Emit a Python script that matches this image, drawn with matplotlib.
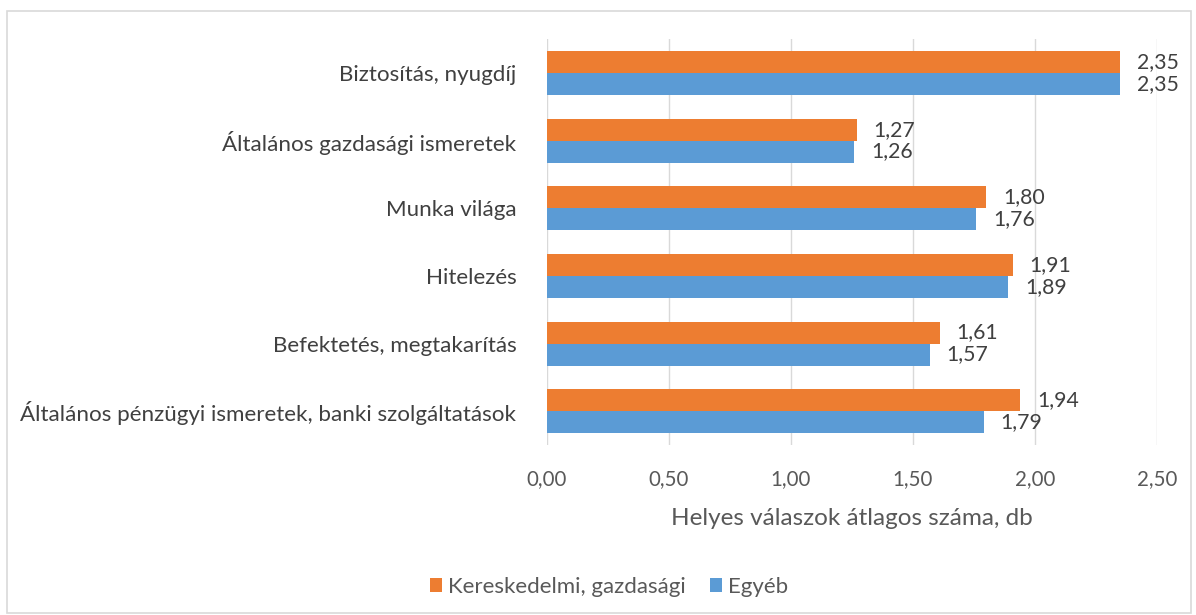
import matplotlib
matplotlib.use("Agg")
import matplotlib.pyplot as plt
import numpy as np
from matplotlib.patches import Rectangle

categories = [
    "Biztosítás, nyugdíj",
    "Általános gazdasági ismeretek",
    "Munka világa",
    "Hitelezés",
    "Befektetés, megtakarítás",
    "Általános pénzügyi ismeretek, banki szolgáltatások",
]
kereskedelmi = [2.35, 1.27, 1.80, 1.91, 1.61, 1.94]
egyeb = [2.35, 1.26, 1.76, 1.89, 1.57, 1.79]
series_names = ["Kereskedelmi, gazdasági", "Egyéb"]
xticks = [0.0, 0.5, 1.0, 1.5, 2.0, 2.5]

plt.rcParams['font.family'] = ['Lato', 'DejaVu Sans']

ORANGE = "#ED7D31"
BLUE = "#5B9BD5"
GRID = "#D9D9D9"
TXT = "#595959"
LBL = "#404040"

fig = plt.figure(figsize=(11.96, 6.15), dpi=100)
ax = fig.add_axes([0.4574, 0.2764, 0.51, 0.66])

n = len(categories)
ypos = np.arange(n)[::-1]
h = 0.325
b1 = ax.barh(ypos + h / 2, kereskedelmi, height=h, color=ORANGE, label=series_names[0], zorder=3)
b2 = ax.barh(ypos - h / 2, egyeb, height=h, color=BLUE, label=series_names[1], zorder=3)

def fmt(v):
    return f"{v:.2f}".replace(".", ",")

for bars, vals in ((b1, kereskedelmi), (b2, egyeb)):
    for rect, v in zip(bars, vals):
        ax.annotate(fmt(v), xy=(v, rect.get_y() + rect.get_height() / 2),
                    xytext=(12, 0), textcoords="offset points",
                    ha="left", va="center", fontsize=15.3, color=LBL)

ax.set_xlim(0, 2.5)
ax.set_ylim(-0.5, n - 0.5)
ax.set_xticks(xticks)
ax.set_xticklabels([fmt(t) for t in xticks], fontsize=14.8, color=TXT)
ax.set_yticks(ypos)
ax.set_yticklabels(categories, fontsize=16.1, color=LBL)
ax.tick_params(axis="both", length=0)
ax.tick_params(axis="x", pad=17)
ax.tick_params(axis="y", pad=22)
ax.grid(axis="x", color=GRID, linewidth=1, zorder=0)
for s in ax.spines.values():
    s.set_visible(False)
ax.set_xlabel("Helyes válaszok átlagos száma, db", fontsize=17.5, color=TXT, labelpad=14)

fig.legend(handles=[b1, b2], labels=series_names, loc="center", bbox_to_anchor=(0.509, 0.046),
           ncol=2, frameon=False, fontsize=16, labelcolor=TXT, handlelength=0.55,
           handleheight=0.55, handletextpad=0.25, columnspacing=1.1)

fig.patches.append(Rectangle((0.006, 0.004), 0.99, 0.978, transform=fig.transFigure,
                             fill=False, edgecolor="#D9D9D9", linewidth=1.2))

fig.savefig("out.png", dpi=100)
